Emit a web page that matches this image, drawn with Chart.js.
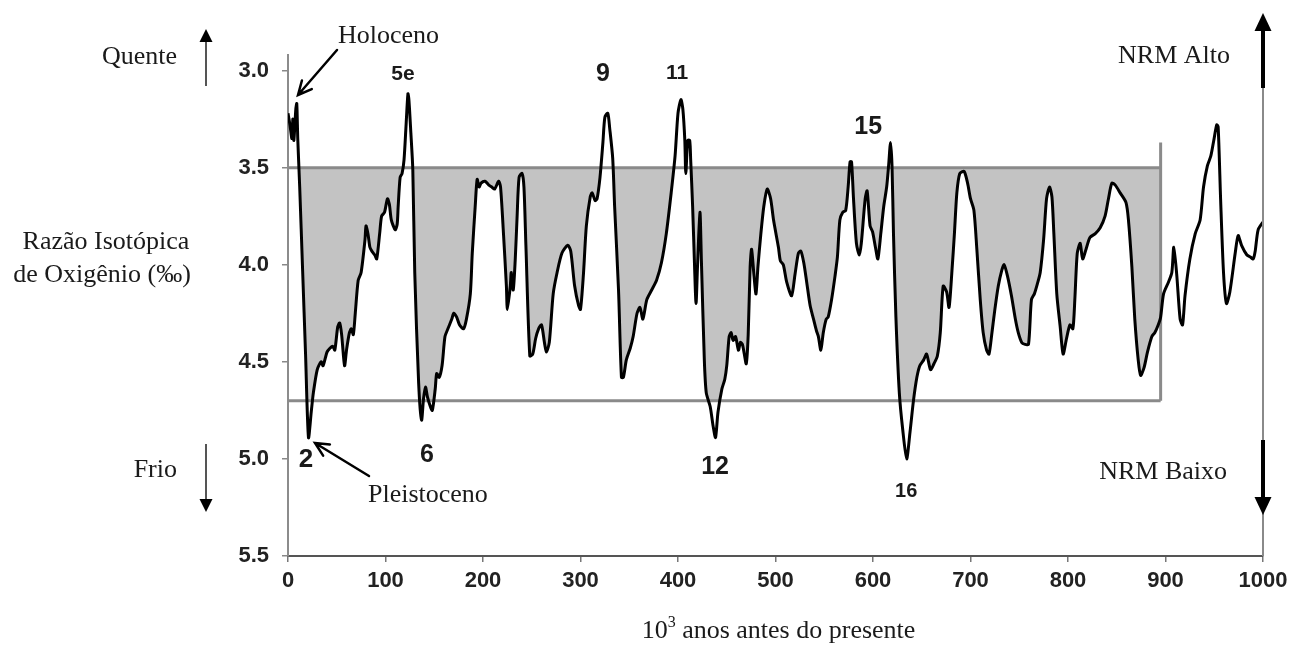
<!DOCTYPE html>
<html lang="pt">
<head>
<meta charset="utf-8">
<title>Razão isotópica de oxigênio — último milhão de anos</title>
<script src="https://cdn.jsdelivr.net/npm/chart.js@4.4.1/dist/chart.umd.min.js"></script>
<style>
  html, body { margin: 0; padding: 0; background: #fff; }
  #wrap { position: relative; width: 1294px; height: 646px; }
</style>
</head>
<body>
<div id="wrap"><canvas id="isotope-chart" width="1294" height="646"></canvas></div>
<script>
// age in thousands of years before present
const ages = [
  0, 2, 4, 5, 6, 8, 9, 10, 12, 15, 18, 21, 24, 26, 30, 34, 36, 40, 43, 46, 48, 51, 53, 55, 58, 60,
  63, 65, 67, 69, 72, 75, 79, 80, 82, 84, 86, 89, 91, 94, 96, 99, 102, 104, 106, 110, 112, 113, 115,
  117, 119, 121, 123, 124, 126, 128, 130, 134, 137, 139, 141, 143, 146, 148, 151, 152.5, 155, 158,
  161, 164, 168, 170, 173, 176, 180, 183, 187, 189, 192, 194, 196, 198, 202, 206, 209, 212, 216, 218,
  221, 224, 225, 228, 229, 231, 233, 235, 237, 240, 242, 244, 248, 251, 254, 257, 260, 263, 265, 268,
  272, 276, 281, 287, 290, 294, 298, 300, 303, 306, 310, 312, 315, 317, 320, 323, 325, 328, 330, 333,
  335, 339, 342, 344, 347, 351, 354, 358, 361, 364, 368, 373, 378, 383, 388, 393, 397, 400, 403, 405,
  407, 408, 410, 412, 413, 415, 417, 418.5, 420, 422.5, 424, 427, 429, 433, 436, 438.5, 441, 445, 448,
  450, 452.5, 454.5, 456.5, 459, 462, 464, 466, 468, 470, 472, 474, 475.5, 478, 480, 482, 485, 488,
  491.5, 495, 498, 503, 505, 508, 511.5, 516.5, 520, 523.5, 526, 529, 532, 535.5, 539, 542, 544, 546.5,
  549, 552, 554, 557.5, 561, 563.5, 566, 569, 572, 574.5, 576.5, 578, 580, 583, 586, 588, 592, 594,
  597, 599.5, 602.5, 605, 608, 611, 614, 616, 618, 619.5, 621, 623.5, 627, 630.5, 634.5, 638, 641.5,
  645, 648, 652, 655, 659, 662.5, 666, 669, 672, 675.5, 678, 681, 683.5, 686, 689, 693.5, 697, 700,
  703.5, 706.5, 710, 713, 716.5, 719, 722, 725, 728.5, 732, 734.5, 738, 742, 746, 749, 752.5, 756,
  759.5, 762.5, 765.5, 768.5, 771.5, 775, 778, 781, 783.5, 785.5, 788.5, 792, 795, 798.5, 802, 805,
  807, 809.5, 812.5, 815, 818.5, 822.5, 828, 833, 838, 841.5, 845, 848.5, 853.5, 859.5, 862, 865.5,
  868.5, 872, 874.5, 878, 881.5, 886, 889, 892.5, 895, 898, 903, 906.5, 908.5, 911.5, 915, 917.5, 920,
  925, 930.5, 935.5, 939, 943, 946.5, 949.5, 952.5, 954, 956.5, 959.5, 962.5, 966, 971.5, 974.5, 978,
  983.5, 987, 990, 992, 995, 1000
];

// oxygen isotope ratio, per mil
const d18O = [
  3.22, 3.28, 3.35, 3.25, 3.36, 3.20, 3.17, 3.35, 3.60, 4.03, 4.46, 4.89, 4.75, 4.66, 4.54, 4.50,
  4.52, 4.45, 4.43, 4.42, 4.44, 4.32, 4.30, 4.36, 4.52, 4.44, 4.35, 4.33, 4.36, 4.25, 4.08, 4.04,
  3.87, 3.80, 3.84, 3.91, 3.93, 3.95, 3.97, 3.84, 3.75, 3.73, 3.66, 3.69, 3.77, 3.82, 3.79, 3.70,
  3.55, 3.53, 3.46, 3.29, 3.12, 3.15, 3.32, 3.51, 4.04, 4.61, 4.80, 4.69, 4.63, 4.68, 4.73, 4.75,
  4.64, 4.56, 4.58, 4.52, 4.37, 4.33, 4.28, 4.25, 4.27, 4.31, 4.33, 4.28, 4.15, 3.94, 3.70, 3.56,
  3.60, 3.58, 3.57, 3.59, 3.60, 3.61, 3.57, 3.60, 3.84, 4.11, 4.23, 4.11, 4.04, 4.13, 3.98, 3.75,
  3.55, 3.53, 3.60, 3.90, 4.47, 4.46, 4.38, 4.33, 4.31, 4.40, 4.45, 4.40, 4.15, 4.04, 3.94, 3.90,
  3.93, 4.11, 4.21, 4.23, 4.05, 3.80, 3.65, 3.63, 3.67, 3.66, 3.55, 3.37, 3.24, 3.22, 3.30, 3.45,
  3.70, 4.13, 4.58, 4.58, 4.49, 4.43, 4.37, 4.25, 4.22, 4.28, 4.18, 4.13, 4.08, 3.99, 3.84, 3.63,
  3.44, 3.22, 3.15, 3.20, 3.36, 3.53, 3.36, 3.36, 3.46, 3.70, 4.01, 4.20, 4.01, 3.73, 3.98, 4.49,
  4.66, 4.73, 4.83, 4.89, 4.76, 4.64, 4.59, 4.52, 4.37, 4.35, 4.39, 4.37, 4.44, 4.40, 4.41, 4.46,
  4.51, 4.36, 4.01, 3.92, 4.06, 4.15, 4.01, 3.84, 3.70, 3.61, 3.66, 3.77, 3.91, 3.98, 4.00, 4.09,
  4.16, 4.05, 3.94, 3.93, 3.99, 4.09, 4.21, 4.28, 4.34, 4.37, 4.44, 4.35, 4.28, 4.27, 4.18, 4.06,
  3.96, 3.77, 3.73, 3.72, 3.60, 3.47, 3.47, 3.66, 3.89, 3.95, 3.89, 3.66, 3.62, 3.80, 3.83, 3.91,
  3.97, 3.84, 3.70, 3.60, 3.49, 3.37, 3.49, 3.84, 4.27, 4.66, 4.85, 5.00, 4.86, 4.70, 4.58, 4.52,
  4.49, 4.46, 4.54, 4.51, 4.47, 4.35, 4.11, 4.14, 4.22, 4.03, 3.84, 3.63, 3.53, 3.52, 3.58, 3.66,
  3.72, 3.92, 4.18, 4.35, 4.44, 4.46, 4.35, 4.23, 4.11, 4.03, 4.00, 4.06, 4.16, 4.28, 4.35, 4.40,
  4.41, 4.41, 4.18, 4.15, 4.10, 4.04, 3.87, 3.66, 3.60, 3.65, 3.84, 4.15, 4.32, 4.46, 4.38, 4.31,
  4.33, 4.18, 3.94, 3.89, 3.97, 3.92, 3.86, 3.84, 3.81, 3.75, 3.66, 3.58, 3.59, 3.63, 3.68, 3.77,
  4.01, 4.28, 4.49, 4.57, 4.53, 4.45, 4.37, 4.35, 4.31, 4.27, 4.15, 4.09, 4.04, 3.91, 4.05, 4.28,
  4.31, 4.16, 3.97, 3.84, 3.77, 3.60, 3.49, 3.44, 3.36, 3.28, 3.29, 3.66, 4.04, 4.20, 4.14, 3.94,
  3.85, 3.90, 3.95, 3.96, 3.97, 3.93, 3.82, 3.78
];

const xTicks = [0, 100, 200, 300, 400, 500, 600, 700, 800, 900, 1000];
const yTicks = [3.0, 3.5, 4.0, 4.5, 5.0, 5.5];

// shaded band: upper and lower isotope levels, and the age where it stops
const bandTop = 3.5;
const bandBottom = 4.7;
const bandEnd = 895;
const bandEdgeTop = 3.37;

// marine isotope stages marked on the curve
const stageNames = ['5e', '9', '11', '15', '2', '6', '12', '16'];
const stageAges = [118, 323, 399, 595, 18.5, 142.5, 438, 634];
const stageLevels = [3.02, 3.02, 3.015, 3.29, 5.005, 4.98, 5.04, 5.17];
const stageSizes = [21, 25, 21, 25, 26, 25, 25, 20];

const series = ages.map((t, i) => ({ x: t, y: d18O[i] }));
const banded = series.filter(p => p.x <= bandEnd);

const SERIF = '"Liberation Serif", "Times New Roman", serif';
const SANS = '"Liberation Sans", Arial, sans-serif';
const INK = '#1a1a1a';
const GREY_LINE = '#8a8a8a';

function solidArrow(ctx, x1, y1, x2, y2, width, color, headLen, headWidth) {
  const ang = Math.atan2(y2 - y1, x2 - x1);
  const bx = x2 - Math.cos(ang) * headLen;
  const by = y2 - Math.sin(ang) * headLen;
  ctx.strokeStyle = color;
  ctx.lineWidth = width;
  ctx.beginPath();
  ctx.moveTo(x1, y1);
  ctx.lineTo(bx, by);
  ctx.stroke();
  const nx = -Math.sin(ang) * headWidth / 2;
  const ny = Math.cos(ang) * headWidth / 2;
  ctx.fillStyle = '#000';
  ctx.beginPath();
  ctx.moveTo(x2, y2);
  ctx.lineTo(bx + nx, by + ny);
  ctx.lineTo(bx - nx, by - ny);
  ctx.closePath();
  ctx.fill();
}

function openArrow(ctx, x1, y1, x2, y2, headLen) {
  const ang = Math.atan2(y2 - y1, x2 - x1);
  ctx.strokeStyle = '#000';
  ctx.lineWidth = 2.5;
  ctx.lineCap = 'round';
  ctx.beginPath();
  ctx.moveTo(x1, y1);
  ctx.lineTo(x2, y2);
  ctx.moveTo(x2 - headLen * Math.cos(ang - 0.45), y2 - headLen * Math.sin(ang - 0.45));
  ctx.lineTo(x2, y2);
  ctx.lineTo(x2 - headLen * Math.cos(ang + 0.45), y2 - headLen * Math.sin(ang + 0.45));
  ctx.stroke();
  ctx.lineCap = 'butt';
}

// labels, arrows and the NRM axis drawn around the plot
const annotations = {
  id: 'annotations',
  afterDraw(chart) {
    const { ctx, scales: { x, y } } = chart;
    ctx.save();

    // NRM axis on the right, at 1000 ka
    const xr = x.getPixelForValue(1000);
    ctx.strokeStyle = GREY_LINE;
    ctx.lineWidth = 2;
    ctx.beginPath();
    ctx.moveTo(xr, 80);
    ctx.lineTo(xr, y.bottom);
    ctx.stroke();
    solidArrow(ctx, xr, 88, xr, 13, 4, '#000', 18, 17);
    solidArrow(ctx, xr, 440, xr, 515, 4, '#000', 18, 17);

    // warm / cold arrows beside the left axis
    solidArrow(ctx, 206, 86, 206, 29, 2, '#555', 13, 13);
    solidArrow(ctx, 206, 444, 206, 512, 2, '#555', 13, 13);

    ctx.fillStyle = INK;
    ctx.textBaseline = 'alphabetic';
    ctx.font = '26px ' + SERIF;
    ctx.textAlign = 'right';
    ctx.fillText('Quente', 177, 64);
    ctx.fillText('Frio', 177, 477);
    ctx.fillText('NRM Alto', 1230, 63);
    ctx.fillText('NRM Baixo', 1227, 479);

    ctx.textAlign = 'center';
    ctx.fillText('Razão Isotópica', 106, 249);
    ctx.fillText('de Oxigênio (‰)', 102, 282);

    ctx.textAlign = 'left';
    ctx.fillText('Holoceno', 338, 43);
    ctx.fillText('Pleistoceno', 368, 502);
    openArrow(ctx, 337, 50, 298, 95, 15);
    openArrow(ctx, 369, 476, 315, 443, 15);

    // x-axis title with the superscript exponent
    const base = '10';
    const rest = ' anos antes do presente';
    ctx.font = '26px ' + SERIF;
    const wBase = ctx.measureText(base).width;
    const wRest = ctx.measureText(rest).width;
    ctx.font = '16px ' + SERIF;
    const wExp = ctx.measureText('3').width;
    const total = wBase + wExp + wRest;
    let tx = (x.left + x.right) / 2 + 3 - total / 2;
    const ty = 638;
    ctx.font = '26px ' + SERIF;
    ctx.fillText(base, tx, ty);
    tx += wBase;
    ctx.font = '16px ' + SERIF;
    ctx.fillText('3', tx, ty - 11);
    tx += wExp;
    ctx.font = '26px ' + SERIF;
    ctx.fillText(rest, tx, ty);

    // stage numbers
    ctx.textAlign = 'center';
    ctx.textBaseline = 'middle';
    stageNames.forEach((name, i) => {
      ctx.font = 'bold ' + stageSizes[i] + 'px ' + SANS;
      ctx.fillText(name, x.getPixelForValue(stageAges[i]), y.getPixelForValue(stageLevels[i]));
    });

    ctx.restore();
  }
};

new Chart(document.getElementById('isotope-chart'), {
  type: 'line',
  data: {
    datasets: [
      {
        // isotope curve
        data: series,
        borderColor: '#000',
        borderWidth: 3,
        pointRadius: 0,
        tension: 0.25,
        fill: false,
        order: 1
      },
      {
        data: [{ x: 0, y: bandTop }, { x: bandEnd, y: bandTop }],
        borderColor: GREY_LINE,
        borderWidth: 3,
        pointRadius: 0,
        fill: false,
        order: 2
      },
      {
        data: [{ x: 0, y: bandBottom }, { x: bandEnd, y: bandBottom }],
        borderColor: GREY_LINE,
        borderWidth: 3,
        pointRadius: 0,
        fill: false,
        order: 2
      },
      {
        data: [{ x: bandEnd, y: bandEdgeTop }, { x: bandEnd, y: bandBottom }],
        borderColor: GREY_LINE,
        borderWidth: 3,
        pointRadius: 0,
        fill: false,
        order: 2
      },
      {
        // clears the shading where the curve dips below the lower level
        data: banded,
        borderWidth: 0,
        pointRadius: 0,
        tension: 0.25,
        fill: { target: { value: bandBottom }, above: 'rgba(0,0,0,0)', below: '#ffffff' },
        order: 3
      },
      {
        // grey shading between the upper level and the curve
        data: banded,
        borderWidth: 0,
        pointRadius: 0,
        tension: 0.25,
        fill: { target: { value: bandTop }, above: 'rgba(0,0,0,0)', below: '#c3c3c3' },
        order: 4
      }
    ]
  },
  options: {
    responsive: false,
    animation: false,
    layout: { padding: { top: 55, right: 31, bottom: 0, left: 0 } },
    plugins: {
      legend: { display: false },
      tooltip: { enabled: false }
    },
    scales: {
      x: {
        type: 'linear',
        min: 0,
        max: 1000,
        afterFit: s => { s.height = 90; },
        afterBuildTicks: s => { s.ticks = xTicks.map(v => ({ value: v })); },
        ticks: {
          color: '#222',
          padding: 6,
          maxRotation: 0,
          autoSkip: false,
          callback: v => String(v),
          font: { family: SANS, size: 22, weight: 'bold' }
        },
        grid: { drawOnChartArea: false, tickLength: 6, color: '#777', lineWidth: 1.5 },
        border: { display: true, color: '#555', width: 2 }
      },
      y: {
        type: 'linear',
        reverse: true,
        min: 2.92,
        max: 5.5,
        afterFit: s => { s.width = 288; },
        afterBuildTicks: s => { s.ticks = yTicks.map(v => ({ value: v })); },
        ticks: {
          color: '#222',
          padding: 13,
          callback: v => v.toFixed(1),
          font: { family: SANS, size: 22, weight: 'bold' }
        },
        grid: { drawOnChartArea: false, tickLength: 6, color: '#888', lineWidth: 1.5 },
        border: { display: true, color: '#8c8c8c', width: 2 }
      }
    }
  },
  plugins: [annotations]
});
</script>
</body>
</html>
